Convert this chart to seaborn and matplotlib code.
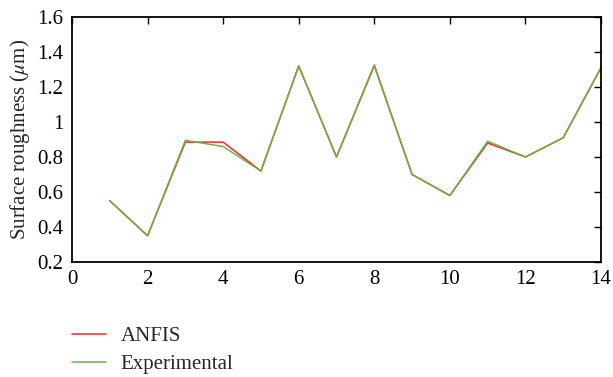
import matplotlib
matplotlib.use("Agg")
import matplotlib.pyplot as plt
import seaborn as sns
import pandas as pd
from matplotlib.lines import Line2D

sns.set_style("white")
plt.rcParams['font.family'] = ['Liberation Serif', 'DejaVu Serif']
plt.rcParams['mathtext.fontset'] = 'stix'

runs = list(range(1, 15))
anfis = [0.55, 0.35, 0.885, 0.885, 0.72, 1.32, 0.80, 1.325, 0.70, 0.58, 0.88, 0.80, 0.91, 1.31]
experimental = [0.55, 0.35, 0.895, 0.86, 0.72, 1.32, 0.80, 1.32, 0.70, 0.58, 0.89, 0.80, 0.91, 1.31]
xticks = [0, 2, 4, 6, 8, 10, 12, 14]
yticks = [0.2, 0.4, 0.6, 0.8, 1.0, 1.2, 1.4, 1.6]
ytick_labels = ["0.2", "0.4", "0.6", "0.8", "1", "1.2", "1.4", "1.6"]

df = pd.DataFrame({"run": runs * 2,
                   "value": anfis + experimental,
                   "series": ["ANFIS"] * 14 + ["Experimental"] * 14})

red = "#f0262a"
green = "#6fb144"

fig = plt.figure(figsize=(6.13, 3.77), dpi=100)
ax = fig.add_axes([72/613, 1 - 262/377, (601-72)/613, (262-17)/377])
sns.lineplot(data=df, x="run", y="value", hue="series",
             palette={"ANFIS": red, "Experimental": green},
             linewidth=1.1, ax=ax, legend=False)

ax.set_xlim(0, 14)
ax.set_ylim(0.2, 1.6)
ax.set_xticks(xticks)
ax.set_xticklabels([str(t) for t in xticks])
ax.set_yticks(yticks)
ax.set_yticklabels(ytick_labels)
ax.set_xlabel("")
ax.set_ylabel(r"Surface roughness ($\mu$m)", fontsize=15, labelpad=4)
ax.tick_params(direction="in", top=True, right=True, length=5, width=1,
               labelsize=15, pad=6, colors="black")
for s in ax.spines.values():
    s.set_linewidth(1.3)
    s.set_color("black")

handles = [Line2D([0], [0], color=red, lw=1.1),
           Line2D([0], [0], color=green, lw=1.1)]
fig.legend(handles, ["ANFIS", "Experimental"], loc="upper left",
           bbox_to_anchor=(57/613, 1 - 312/377), frameon=False,
           fontsize=15, handlelength=1.65, labelspacing=0.4, handletextpad=0.7,
           borderpad=0.2)

fig.savefig("out.png", dpi=100)
